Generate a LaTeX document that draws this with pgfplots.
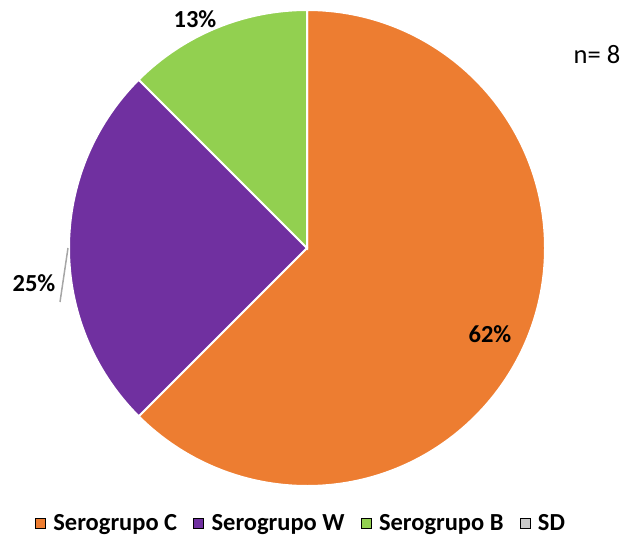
\documentclass[border=0pt]{standalone}
\usepackage{pgfplots}
\pgfplotsset{compat=1.18}
\usepackage{pgfplotstable}
\usepackage{fontspec}
\setmainfont{Carlito}
\definecolor{cC}{HTML}{ED7D31}
\definecolor{cW}{HTML}{7030A0}
\definecolor{cB}{HTML}{92D050}
\definecolor{cSD}{HTML}{C8C8C8}
\pgfplotstableread{
value
5
2
1
0
}\piedata
\pgfplotstablegetelem{0}{value}\of\piedata \let\vC\pgfplotsretval
\pgfplotstablegetelem{1}{value}\of\piedata \let\vW\pgfplotsretval
\pgfplotstablegetelem{2}{value}\of\piedata \let\vB\pgfplotsretval
\pgfplotstablegetelem{3}{value}\of\piedata \let\vSD\pgfplotsretval
\begin{document}
\begin{tikzpicture}
\pgfmathsetmacro{\tot}{\vC+\vW+\vB+\vSD}
\pgfmathsetmacro{\aA}{90}
\pgfmathsetmacro{\aB}{90-360*\vC/\tot}
\pgfmathsetmacro{\aC}{\aB-360*\vW/\tot}
\pgfmathsetmacro{\aD}{\aC-360*\vB/\tot}
\begin{axis}[
  x=1pt, y=1pt, disabledatascaling,
  xmin=0, xmax=624, ymin=0, ymax=542,
  hide axis, clip=false,
  legend columns=4,
  legend style={draw=none, fill=none, at={(axis cs:301,19)}, anchor=center,
    font=\fontsize{24.5}{28}\selectfont\bfseries,
    /tikz/every even column/.append style={column sep=14pt},
    /tikz/every odd column/.append style={column sep=6pt}},
  legend image code/.code={\fill[#1] (0pt,-5pt) rectangle (10pt,5pt);},
]
\addlegendimage{fill=cC}\addlegendentry{Serogrupo C}
\addlegendimage{fill=cW}\addlegendentry{Serogrupo W}
\addlegendimage{fill=cB}\addlegendentry{Serogrupo B}
\addlegendimage{fill=cSD}\addlegendentry{SD}
\path (axis cs:0,0) rectangle (axis cs:624,542);
\fill[cC, draw=white, line width=2pt] (axis cs:307,294) -- ++(\aA:238pt) arc[start angle=\aA, end angle=\aB, radius=238pt] -- cycle;
\fill[cW, draw=white, line width=2pt] (axis cs:307,294) -- ++(\aB:238pt) arc[start angle=\aB, end angle=\aC, radius=238pt] -- cycle;
\fill[cB, draw=white, line width=2pt] (axis cs:307,294) -- ++(\aC:238pt) arc[start angle=\aC, end angle=\aD, radius=238pt] -- cycle;
\draw[gray!70, line width=1.5pt] (axis cs:68,294) -- (axis cs:60,240);
\node[font=\fontsize{24.5}{28}\selectfont\bfseries] at (axis cs:195,523) {13\%};
\node[font=\fontsize{24.5}{28}\selectfont\bfseries] at (axis cs:34,259) {25\%};
\node[font=\fontsize{24.5}{28}\selectfont\bfseries] at (axis cs:490,208) {62\%};
\node[font=\fontsize{26.5}{30}\selectfont] at (axis cs:597,487) {n= 8};
\end{axis}
\end{tikzpicture}
\end{document}
